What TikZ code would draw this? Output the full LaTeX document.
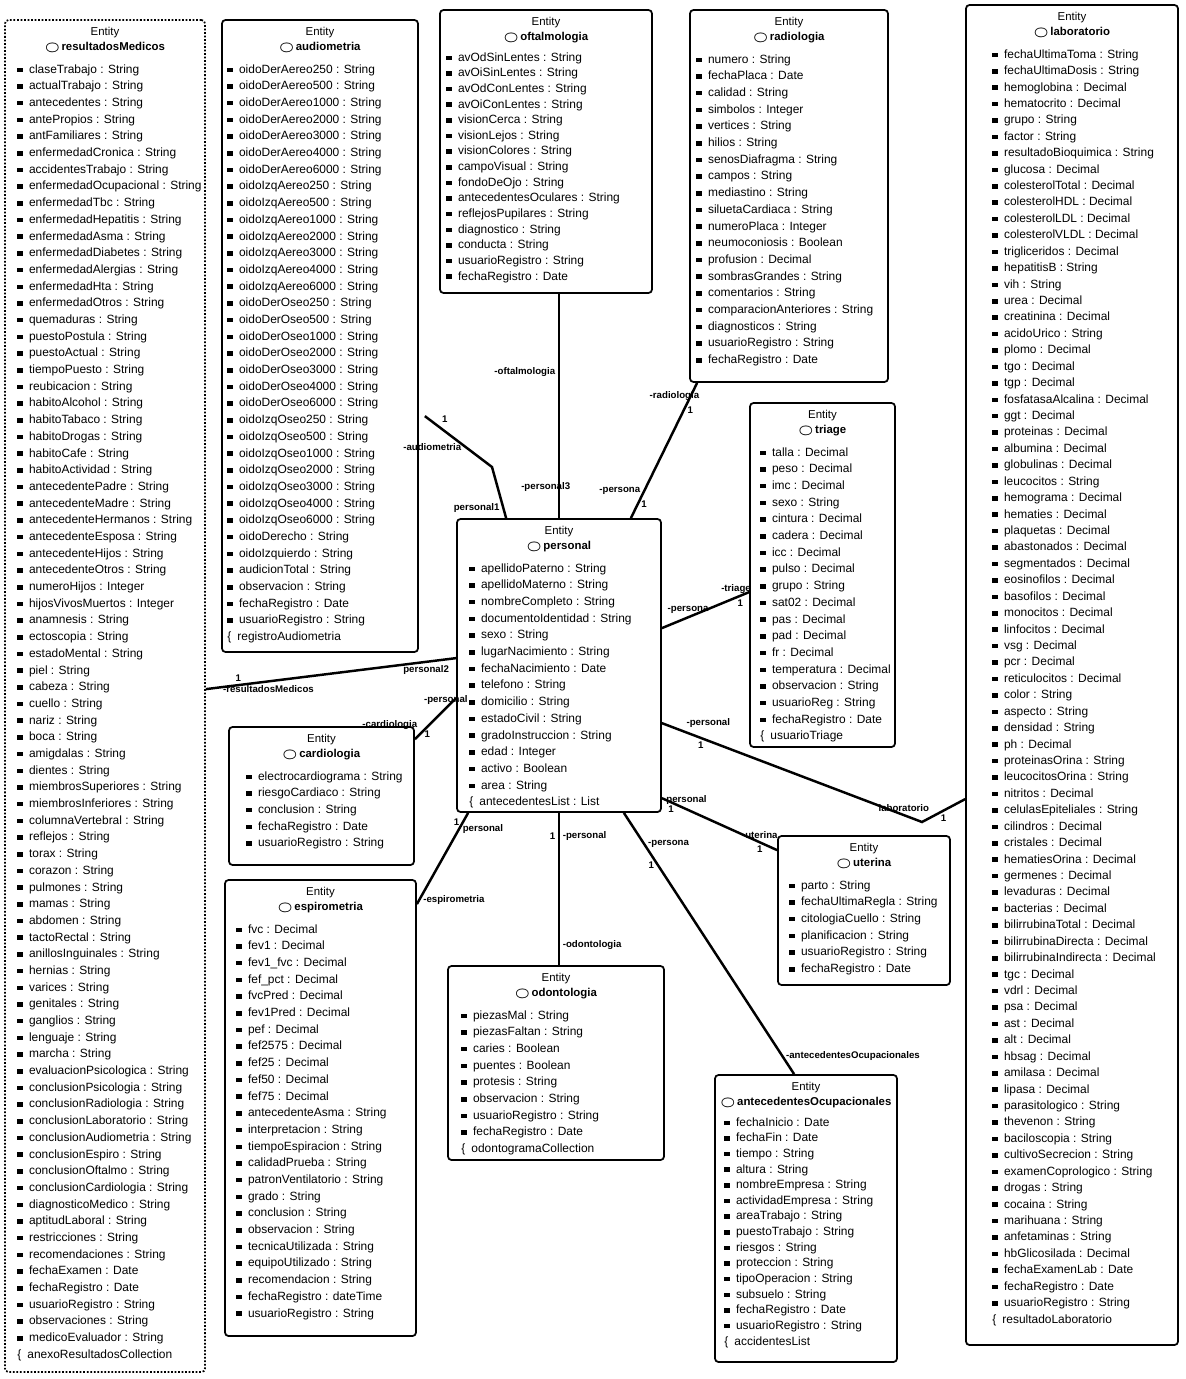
\documentclass[tikz,border=0pt]{standalone}
\usepackage{fontspec}
\setmainfont{Liberation Sans}
\usetikzlibrary{positioning, fit, calc}

% one attribute row, and the collection row closing an entity
\newcommand{\campo}[1]{\rule[0.6pt]{3.2pt}{2.6pt}\enspace #1\\}
\newcommand{\lista}[1]{\{\enspace #1}
\newcommand{\entidad}[1]{Entity\\{\boldmath$\bigcirc$}\,\textbf{#1}}

\begin{document}
\begin{tikzpicture}[x=0.02cm, y=-0.02cm, font=\fontsize{6.8}{9.5}\selectfont,
  caja/.style={draw, line width=1pt, rounded corners=2pt, inner sep=0pt},
  cabeza/.style={align=center, anchor=north, inner sep=0pt, font=\fontsize{6.5}{8.6}\selectfont},
  filas/.style={align=left, anchor=north west, inner sep=0pt},
  apretadas/.style={filas, font=\fontsize{6.8}{8.9}\selectfont},
  enlace/.style={line width=1.4pt},
  rol/.style={font=\fontsize{5.5}{6.5}\selectfont\bfseries, inner sep=1.5pt}]
\useasboundingbox (0,0) rectangle (1186,1379);

% entity boxes
\node[caja, fit={(5,20) (205,1372)}, densely dotted] (resultadosMedicos) {};
\node[caja, fit={(222,20) (418,652)}] (audiometria) {};
\node[caja, fit={(440,10) (652,293)}] (oftalmologia) {};
\node[caja, fit={(690,10) (888,382)}] (radiologia) {};
\node[caja, fit={(966,5) (1178,1345)}] (laboratorio) {};
\node[caja, fit={(750,403) (895,747)}] (triage) {};
\node[caja, fit={(457,519) (661,812)}] (personal) {};
\node[caja, fit={(229,727) (414,865)}] (cardiologia) {};
\node[caja, fit={(225,880) (416,1336)}] (espirometria) {};
\node[caja, fit={(448,966) (664,1160)}] (odontologia) {};
\node[caja, fit={(778,836) (950,985)}] (uterina) {};
\node[caja, fit={(715,1075) (897,1362)}] (antecedentesOcupacionales) {};

% headers
\foreach \e in {resultadosMedicos, audiometria, oftalmologia, radiologia, laboratorio, triage,
  personal, cardiologia, espirometria, odontologia, uterina, antecedentesOcupacionales}
  \node[cabeza] at ($(\e.north)+(0,8)$) {\entidad{\e}};

% attributes
\node[filas] at ($(resultadosMedicos.north west)+(13,45)$) {
\campo{claseTrabajo : String}
\campo{actualTrabajo : String}
\campo{antecedentes : String}
\campo{antePropios : String}
\campo{antFamiliares : String}
\campo{enfermedadCronica : String}
\campo{accidentesTrabajo : String}
\campo{enfermedadOcupacional : String}
\campo{enfermedadTbc : String}
\campo{enfermedadHepatitis : String}
\campo{enfermedadAsma : String}
\campo{enfermedadDiabetes : String}
\campo{enfermedadAlergias : String}
\campo{enfermedadHta : String}
\campo{enfermedadOtros : String}
\campo{quemaduras : String}
\campo{puestoPostula : String}
\campo{puestoActual : String}
\campo{tiempoPuesto : String}
\campo{reubicacion : String}
\campo{habitoAlcohol : String}
\campo{habitoTabaco : String}
\campo{habitoDrogas : String}
\campo{habitoCafe : String}
\campo{habitoActividad : String}
\campo{antecedentePadre : String}
\campo{antecedenteMadre : String}
\campo{antecedenteHermanos : String}
\campo{antecedenteEsposa : String}
\campo{antecedenteHijos : String}
\campo{antecedenteOtros : String}
\campo{numeroHijos : Integer}
\campo{hijosVivosMuertos : Integer}
\campo{anamnesis : String}
\campo{ectoscopia : String}
\campo{estadoMental : String}
\campo{piel : String}
\campo{cabeza : String}
\campo{cuello : String}
\campo{nariz : String}
\campo{boca : String}
\campo{amigdalas : String}
\campo{dientes : String}
\campo{miembrosSuperiores : String}
\campo{miembrosInferiores : String}
\campo{columnaVertebral : String}
\campo{reflejos : String}
\campo{torax : String}
\campo{corazon : String}
\campo{pulmones : String}
\campo{mamas : String}
\campo{abdomen : String}
\campo{tactoRectal : String}
\campo{anillosInguinales : String}
\campo{hernias : String}
\campo{varices : String}
\campo{genitales : String}
\campo{ganglios : String}
\campo{lenguaje : String}
\campo{marcha : String}
\campo{evaluacionPsicologica : String}
\campo{conclusionPsicologia : String}
\campo{conclusionRadiologia : String}
\campo{conclusionLaboratorio : String}
\campo{conclusionAudiometria : String}
\campo{conclusionEspiro : String}
\campo{conclusionOftalmo : String}
\campo{conclusionCardiologia : String}
\campo{diagnosticoMedico : String}
\campo{aptitudLaboral : String}
\campo{restricciones : String}
\campo{recomendaciones : String}
\campo{fechaExamen : Date}
\campo{fechaRegistro : Date}
\campo{usuarioRegistro : String}
\campo{observaciones : String}
\campo{medicoEvaluador : String}
\lista{anexoResultadosCollection}};

\node[filas] at ($(audiometria.north west)+(6,45)$) {
\campo{oidoDerAereo250 : String}
\campo{oidoDerAereo500 : String}
\campo{oidoDerAereo1000 : String}
\campo{oidoDerAereo2000 : String}
\campo{oidoDerAereo3000 : String}
\campo{oidoDerAereo4000 : String}
\campo{oidoDerAereo6000 : String}
\campo{oidoIzqAereo250 : String}
\campo{oidoIzqAereo500 : String}
\campo{oidoIzqAereo1000 : String}
\campo{oidoIzqAereo2000 : String}
\campo{oidoIzqAereo3000 : String}
\campo{oidoIzqAereo4000 : String}
\campo{oidoIzqAereo6000 : String}
\campo{oidoDerOseo250 : String}
\campo{oidoDerOseo500 : String}
\campo{oidoDerOseo1000 : String}
\campo{oidoDerOseo2000 : String}
\campo{oidoDerOseo3000 : String}
\campo{oidoDerOseo4000 : String}
\campo{oidoDerOseo6000 : String}
\campo{oidoIzqOseo250 : String}
\campo{oidoIzqOseo500 : String}
\campo{oidoIzqOseo1000 : String}
\campo{oidoIzqOseo2000 : String}
\campo{oidoIzqOseo3000 : String}
\campo{oidoIzqOseo4000 : String}
\campo{oidoIzqOseo6000 : String}
\campo{oidoDerecho : String}
\campo{oidoIzquierdo : String}
\campo{audicionTotal : String}
\campo{observacion : String}
\campo{fechaRegistro : Date}
\campo{usuarioRegistro : String}
\lista{registroAudiometria}};

\node[apretadas] at ($(oftalmologia.north west)+(7,43)$) {
\campo{avOdSinLentes : String}
\campo{avOiSinLentes : String}
\campo{avOdConLentes : String}
\campo{avOiConLentes : String}
\campo{visionCerca : String}
\campo{visionLejos : String}
\campo{visionColores : String}
\campo{campoVisual : String}
\campo{fondoDeOjo : String}
\campo{antecedentesOculares : String}
\campo{reflejosPupilares : String}
\campo{diagnostico : String}
\campo{conducta : String}
\campo{usuarioRegistro : String}
\campo{fechaRegistro : Date}};

\node[filas] at ($(radiologia.north west)+(7,45)$) {
\campo{numero : String}
\campo{fechaPlaca : Date}
\campo{calidad : String}
\campo{simbolos : Integer}
\campo{vertices : String}
\campo{hilios : String}
\campo{senosDiafragma : String}
\campo{campos : String}
\campo{mediastino : String}
\campo{siluetaCardiaca : String}
\campo{numeroPlaca : Integer}
\campo{neumoconiosis : Boolean}
\campo{profusion : Decimal}
\campo{sombrasGrandes : String}
\campo{comentarios : String}
\campo{comparacionAnteriores : String}
\campo{diagnosticos : String}
\campo{usuarioRegistro : String}
\campo{fechaRegistro : Date}};

\node[filas, font=\fontsize{6.8}{9.35}\selectfont] at ($(laboratorio.north west)+(27,45)$) {
\campo{fechaUltimaToma : String}
\campo{fechaUltimaDosis : String}
\campo{hemoglobina : Decimal}
\campo{hematocrito : Decimal}
\campo{grupo : String}
\campo{factor : String}
\campo{resultadoBioquimica : String}
\campo{glucosa : Decimal}
\campo{colesterolTotal : Decimal}
\campo{colesterolHDL : Decimal}
\campo{colesterolLDL : Decimal}
\campo{colesterolVLDL : Decimal}
\campo{trigliceridos : Decimal}
\campo{hepatitisB : String}
\campo{vih : String}
\campo{urea : Decimal}
\campo{creatinina : Decimal}
\campo{acidoUrico : String}
\campo{plomo : Decimal}
\campo{tgo : Decimal}
\campo{tgp : Decimal}
\campo{fosfatasaAlcalina : Decimal}
\campo{ggt : Decimal}
\campo{proteinas : Decimal}
\campo{albumina : Decimal}
\campo{globulinas : Decimal}
\campo{leucocitos : String}
\campo{hemograma : Decimal}
\campo{hematies : Decimal}
\campo{plaquetas : Decimal}
\campo{abastonados : Decimal}
\campo{segmentados : Decimal}
\campo{eosinofilos : Decimal}
\campo{basofilos : Decimal}
\campo{monocitos : Decimal}
\campo{linfocitos : Decimal}
\campo{vsg : Decimal}
\campo{pcr : Decimal}
\campo{reticulocitos : Decimal}
\campo{color : String}
\campo{aspecto : String}
\campo{densidad : String}
\campo{ph : Decimal}
\campo{proteinasOrina : String}
\campo{leucocitosOrina : String}
\campo{nitritos : Decimal}
\campo{celulasEpiteliales : String}
\campo{cilindros : Decimal}
\campo{cristales : Decimal}
\campo{hematiesOrina : Decimal}
\campo{germenes : Decimal}
\campo{levaduras : Decimal}
\campo{bacterias : Decimal}
\campo{bilirrubinaTotal : Decimal}
\campo{bilirrubinaDirecta : Decimal}
\campo{bilirrubinaIndirecta : Decimal}
\campo{tgc : Decimal}
\campo{vdrl : Decimal}
\campo{psa : Decimal}
\campo{ast : Decimal}
\campo{alt : Decimal}
\campo{hbsag : Decimal}
\campo{amilasa : Decimal}
\campo{lipasa : Decimal}
\campo{parasitologico : String}
\campo{thevenon : String}
\campo{baciloscopia : String}
\campo{cultivoSecrecion : String}
\campo{examenCoprologico : String}
\campo{drogas : String}
\campo{cocaina : String}
\campo{marihuana : String}
\campo{anfetaminas : String}
\campo{hbGlicosilada : Decimal}
\campo{fechaExamenLab : Date}
\campo{fechaRegistro : Date}
\campo{usuarioRegistro : String}
\lista{resultadoLaboratorio}};

\node[filas] at ($(triage.north west)+(11,45)$) {
\campo{talla : Decimal}
\campo{peso : Decimal}
\campo{imc : Decimal}
\campo{sexo : String}
\campo{cintura : Decimal}
\campo{cadera : Decimal}
\campo{icc : Decimal}
\campo{pulso : Decimal}
\campo{grupo : String}
\campo{sat02 : Decimal}
\campo{pas : Decimal}
\campo{pad : Decimal}
\campo{fr : Decimal}
\campo{temperatura : Decimal}
\campo{observacion : String}
\campo{usuarioReg : String}
\campo{fechaRegistro : Date}
\lista{usuarioTriage}};

\node[filas] at ($(personal.north west)+(13,45)$) {
\campo{apellidoPaterno : String}
\campo{apellidoMaterno : String}
\campo{nombreCompleto : String}
\campo{documentoIdentidad : String}
\campo{sexo : String}
\campo{lugarNacimiento : String}
\campo{fechaNacimiento : Date}
\campo{telefono : String}
\campo{domicilio : String}
\campo{estadoCivil : String}
\campo{gradoInstruccion : String}
\campo{edad : Integer}
\campo{activo : Boolean}
\campo{area : String}
\lista{antecedentesList : List}};

\node[filas] at ($(cardiologia.north west)+(18,45)$) {
\campo{electrocardiograma : String}
\campo{riesgoCardiaco : String}
\campo{conclusion : String}
\campo{fechaRegistro : Date}
\campo{usuarioRegistro : String}};

\node[filas] at ($(espirometria.north west)+(12,45)$) {
\campo{fvc : Decimal}
\campo{fev1 : Decimal}
\campo{fev1\_fvc : Decimal}
\campo{fef\_pct : Decimal}
\campo{fvcPred : Decimal}
\campo{fev1Pred : Decimal}
\campo{pef : Decimal}
\campo{fef2575 : Decimal}
\campo{fef25 : Decimal}
\campo{fef50 : Decimal}
\campo{fef75 : Decimal}
\campo{antecedenteAsma : String}
\campo{interpretacion : String}
\campo{tiempoEspiracion : String}
\campo{calidadPrueba : String}
\campo{patronVentilatorio : String}
\campo{grado : String}
\campo{conclusion : String}
\campo{observacion : String}
\campo{tecnicaUtilizada : String}
\campo{equipoUtilizado : String}
\campo{recomendacion : String}
\campo{fechaRegistro : dateTime}
\campo{usuarioRegistro : String}};

\node[filas] at ($(odontologia.north west)+(14,45)$) {
\campo{piezasMal : String}
\campo{piezasFaltan : String}
\campo{caries : Boolean}
\campo{puentes : Boolean}
\campo{protesis : String}
\campo{observacion : String}
\campo{usuarioRegistro : String}
\campo{fechaRegistro : Date}
\lista{odontogramaCollection}};

\node[filas] at ($(uterina.north west)+(12,45)$) {
\campo{parto : String}
\campo{fechaUltimaRegla : String}
\campo{citologiaCuello : String}
\campo{planificacion : String}
\campo{usuarioRegistro : String}
\campo{fechaRegistro : Date}};

\node[apretadas] at ($(antecedentesOcupacionales.north west)+(10,43)$) {
\campo{fechaInicio : Date}
\campo{fechaFin : Date}
\campo{tiempo : String}
\campo{altura : String}
\campo{nombreEmpresa : String}
\campo{actividadEmpresa : String}
\campo{areaTrabajo : String}
\campo{puestoTrabajo : String}
\campo{riesgos : String}
\campo{proteccion : String}
\campo{tipoOperacion : String}
\campo{subsuelo : String}
\campo{fechaRegistro : Date}
\campo{usuarioRegistro : String}
\lista{accidentesList}};

% relations around personal
\coordinate (codoA) at (492,467);
\coordinate (codoL) at (922,822);

\draw[enlace] (oftalmologia.south -| personal.north) -- node[rol, left, pos=.35] {-oftalmologia}
  node[rol, anchor=east, pos=.86, xshift=0.3cm] {-personal3} (personal.north);
\draw[enlace] ($(audiometria.north east)+(6,397)$) -- node[rol, above right, pos=.2] {1}
  node[rol, left, pos=.6] {-audiometria} (codoA)
  -- node[rol, left, pos=.8] {personal1} ($(personal.north west)+(50,0)$);
\draw[enlace] ($(radiologia.south west)+(8,0)$) -- node[rol, left, pos=.1, xshift=0.25cm] {-radiologia}
  node[rol, right, pos=.2] {1} node[rol, left, pos=.8] {-persona} node[rol, right, pos=.9] {1}
  ($(personal.north east)+(-31,0)$);
\draw[enlace] ($(personal.north east)+(0,110)$) -- node[rol, above, pos=.3] {-persona}
  node[rol, above, pos=.85] {-triage} node[rol, below, pos=.9] {1} ($(triage.north west)+(0,190)$);
\draw[enlace] ($(personal.north east)+(0,205)$) -- node[rol, above right, pos=.08] {-personal}
  node[rol, below, pos=.15] {1} node[rol, above, pos=.93] {laboratorio} (codoL)
  -- node[rol, below, pos=.5] {1} ($(laboratorio.north west)+(0,795)$);
\draw[enlace] ($(personal.north east)+(0,280)$) -- node[rol, above, pos=.2] {-personal}
  node[rol, below, pos=.08] {1} node[rol, above, pos=.85] {-uterina} node[rol, below, pos=.85] {1}
  ($(uterina.north west)+(0,15)$);
\draw[enlace] ($(personal.south east)+(-38,0)$) -- node[rol, right, pos=.12] {-persona}
  node[rol, left, pos=.2] {1} node[rol, right, pos=.93] {-antecedentesOcupacionales}
  ($(antecedentesOcupacionales.north west)+(80,0)$);
\draw[enlace] (personal.south) -- node[rol, left, pos=.15] {1} node[rol, right, pos=.15] {-personal}
  node[rol, right, pos=.87] {-odontologia} (personal.south |- odontologia.north);
\draw[enlace] ($(personal.south west)+(12,0)$) -- node[rol, right, pos=.18] {personal}
  node[rol, left, pos=.1] {1} node[rol, right, pos=.95] {-espirometria} ($(espirometria.north east)+(0,25)$);
\draw[enlace] ($(personal.north west)+(0,180)$) -- node[rol, above, pos=.25] {-personal}
  node[rol, above left, pos=.85] {-cardiologia} node[rol, below, pos=.7] {1} ($(cardiologia.north east)+(0,13)$);
\draw[enlace] ($(personal.north west)+(0,140)$) -- node[rol, below, pos=.12] {personal2}
  node[rol, above, pos=.87] {1} node[rol, below, pos=.75] {-resultadosMedicos}
  ($(resultadosMedicos.north east)+(0,670)$);
\end{tikzpicture}
\end{document}
